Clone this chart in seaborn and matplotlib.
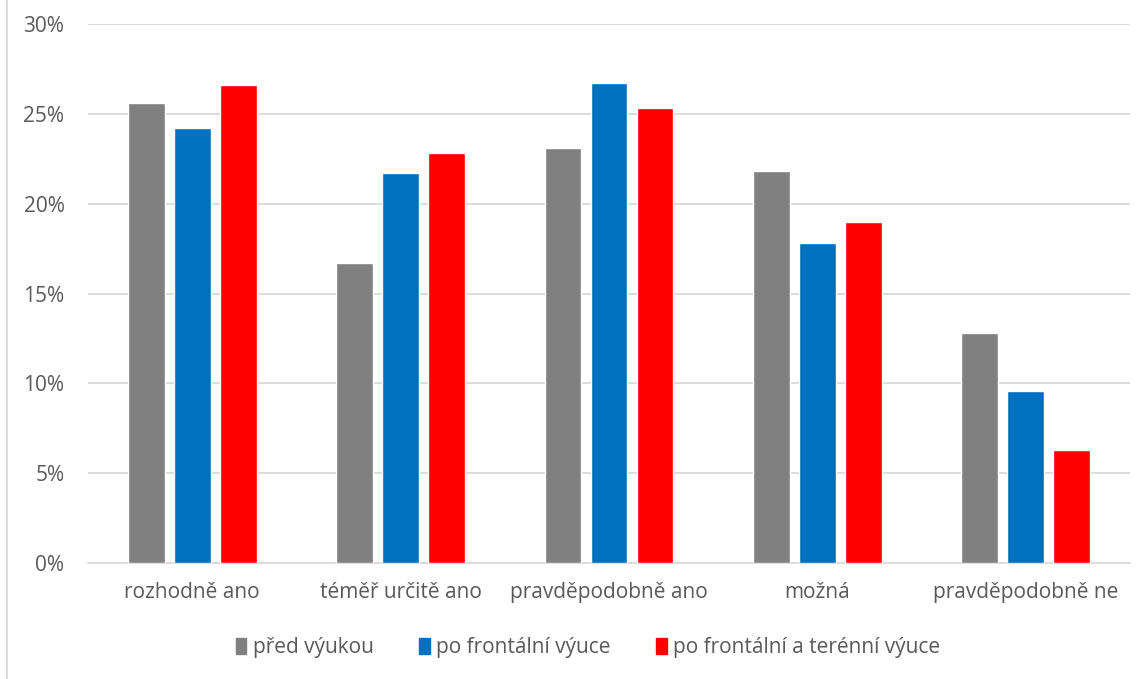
import matplotlib
matplotlib.use("Agg")
import matplotlib.pyplot as plt
import matplotlib.lines as mlines
import matplotlib.patches as mpatches
import pandas as pd
import seaborn as sns
from matplotlib.ticker import FuncFormatter, MultipleLocator

# Answer categories and shares of respondents (%)
categories = ["rozhodně ano", "téměř určitě ano", "pravděpodobně ano", "možná", "pravděpodobně ne"]
series_names = ["před výukou", "po frontální výuce", "po frontální a terénní výuce"]
pred_vyukou = [25.6, 16.7, 23.1, 21.8, 12.8]
po_frontalni = [24.2, 21.7, 26.7, 17.8, 9.6]
po_frontalni_terenni = [26.6, 22.8, 25.3, 19.0, 6.3]
colors = ["#808080", "#0070C0", "#FF0000"]

rows = []
for name, vals in zip(series_names, [pred_vyukou, po_frontalni, po_frontalni_terenni]):
    for cat, v in zip(categories, vals):
        rows.append({"kategorie": cat, "serie": name, "podil": v})
df = pd.DataFrame(rows)

sns.set_theme(style="white")
plt.rcParams["font.family"] = ["Open Sans", "DejaVu Sans"]
text_color = "#595959"
fs = 15

fig = plt.figure(figsize=(11.47, 6.79), dpi=100)
ax = fig.add_axes([88 / 1147, 116 / 679, (1130 - 88) / 1147, (563 - 24) / 679])

sns.barplot(data=df, x="kategorie", y="podil", hue="serie", order=categories,
            hue_order=series_names, palette=colors, width=0.662, gap=0.2,
            saturation=1, ax=ax, legend=False, zorder=3)

ax.set_ylim(0, 30)
ax.set_xlim(-0.5, len(categories) - 0.5)
ax.yaxis.set_major_locator(MultipleLocator(5))
ax.yaxis.set_major_formatter(FuncFormatter(lambda v, _: f"{v:.0f}%"))
ax.grid(axis="y", color="#d9d9d9", linewidth=1.3, zorder=0)
ax.set_axisbelow(True)
for s in ["top", "right", "left"]:
    ax.spines[s].set_visible(False)
ax.spines["bottom"].set_color("#d9d9d9")
ax.spines["bottom"].set_linewidth(1.3)
ax.set_xlabel("")
ax.set_ylabel("")
ax.tick_params(axis="y", length=0, pad=17, labelsize=fs, labelcolor=text_color)
ax.tick_params(axis="x", length=0, pad=14, labelsize=fs, labelcolor=text_color)

# chart-area border on the left
fig.add_artist(mlines.Line2D([7 / 1147, 7 / 1147], [0, 1], color="#d9d9d9",
                             linewidth=1.3, transform=fig.transFigure))

handles = [mpatches.Patch(color=c, label=n) for c, n in zip(colors, series_names)]
leg = fig.legend(handles=handles, loc="center", bbox_to_anchor=(588 / 1147, 1 - 648 / 679),
                 ncol=3, frameon=False, fontsize=fs, handlelength=0.5, handleheight=0.8,
                 handletextpad=0.3, columnspacing=2.2)
for t in leg.get_texts():
    t.set_color(text_color)

fig.savefig("out.png", dpi=100)
